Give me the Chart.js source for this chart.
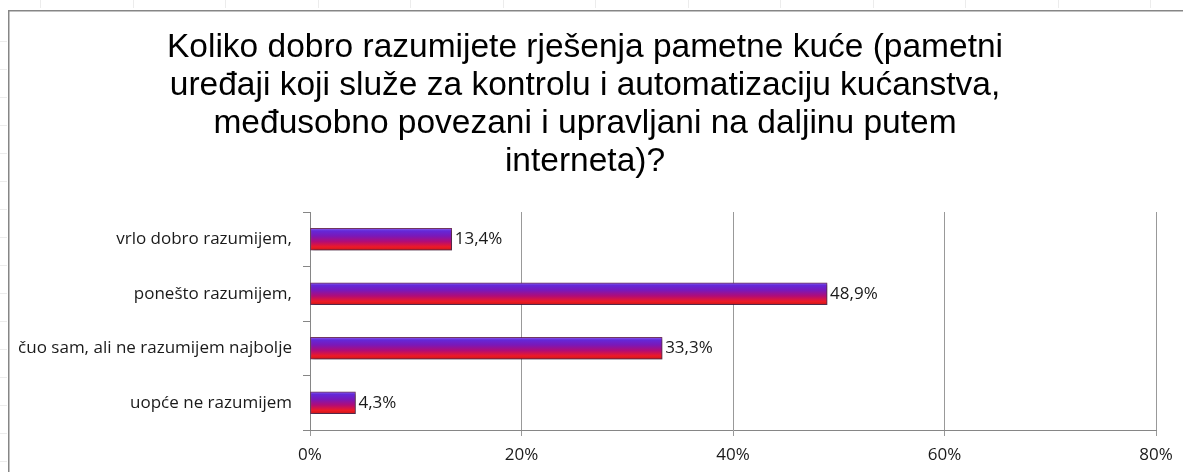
<!DOCTYPE html>
<html>
<head>
<meta charset="utf-8">
<script src="https://cdn.jsdelivr.net/npm/chart.js@4/dist/chart.umd.min.js"></script>
<style>
  html, body { margin: 0; padding: 0; background: #fff; }
  #wrap { width: 1183px; height: 472px; position: relative; }
</style>
</head>
<body>
<div id="wrap"><canvas id="smartHomeChart" width="1183" height="472"></canvas></div>
<script>
const titleLines = [
  'Koliko dobro razumijete rješenja pametne kuće (pametni',
  'uređaji koji služe za kontrolu i automatizaciju kućanstva,',
  'međusobno povezani i upravljani na daljinu putem',
  'interneta)?'
];
const categories = ['vrlo dobro razumijem,', 'ponešto razumijem,', 'čuo sam, ali ne razumijem najbolje', 'uopće ne razumijem'];
const shares = [13.4, 48.9, 33.3, 4.3];
const tickValues = [0, 20, 40, 60, 80];

const labelFont = '"Open Sans", "DejaVu Sans", sans-serif';
const barHalf = 11;

// excel style frame + faint sheet grid behind the chart
const sheetFrame = {
  id: 'sheetFrame',
  beforeDraw(chart) {
    const ctx = chart.ctx;
    ctx.save();
    ctx.strokeStyle = '#ececec';
    ctx.lineWidth = 1;
    for (let x = 40; x < chart.width; x += 92.5) {
      ctx.beginPath();
      ctx.moveTo(Math.round(x) + 0.5, 0);
      ctx.lineTo(Math.round(x) + 0.5, 8);
      ctx.stroke();
    }
    for (let y = 41; y < chart.height; y += 28) {
      ctx.beginPath();
      ctx.moveTo(0, Math.round(y) + 0.5);
      ctx.lineTo(7, Math.round(y) + 0.5);
      ctx.stroke();
    }
    ctx.strokeStyle = '#868686';
    ctx.lineWidth = 1.5;
    ctx.beginPath();
    ctx.moveTo(8.75, chart.height);
    ctx.lineTo(8.75, 10.75);
    ctx.lineTo(chart.width, 10.75);
    ctx.stroke();
    ctx.restore();
  }
};

const barShadow = {
  id: 'barShadow',
  beforeDatasetDraw(chart) {
    const ctx = chart.ctx;
    ctx.save();
    ctx.shadowColor = 'rgba(0,0,0,0.35)';
    ctx.shadowBlur = 3;
    ctx.shadowOffsetX = 2;
    ctx.shadowOffsetY = 2;
  },
  afterDatasetDraw(chart) {
    chart.ctx.restore();
  }
};

const valueLabels = {
  id: 'valueLabels',
  afterDatasetsDraw(chart) {
    const ctx = chart.ctx;
    const meta = chart.getDatasetMeta(0);
    ctx.save();
    ctx.font = '17px ' + labelFont;
    ctx.fillStyle = '#1a1a1a';
    ctx.textAlign = 'left';
    ctx.textBaseline = 'middle';
    meta.data.forEach((bar, i) => {
      const txt = shares[i].toFixed(1).replace('.', ',') + '%';
      ctx.fillText(txt, bar.x + 3, bar.y);
    });
    ctx.restore();
  }
};

function barFill(context) {
  const chart = context.chart;
  const yScale = chart.scales.y;
  if (!yScale || context.dataIndex === undefined) return '#8a1a9a';
  const yc = yScale.getPixelForValue(context.dataIndex);
  if (!isFinite(yc)) return '#8a1a9a';
  const g = chart.ctx.createLinearGradient(0, yc - barHalf, 0, yc + barHalf);
  g.addColorStop(0, '#8a62f0');
  g.addColorStop(0.12, '#6428d8');
  g.addColorStop(0.35, '#7a18b8');
  g.addColorStop(0.6, '#b00c78');
  g.addColorStop(0.85, '#ee1a26');
  g.addColorStop(1, '#c81818');
  return g;
}

new Chart(document.getElementById('smartHomeChart'), {
  type: 'bar',
  data: {
    labels: categories,
    datasets: [{
      data: shares,
      backgroundColor: barFill,
      borderColor: 'rgba(90,20,70,0.85)',
      borderWidth: 1,
      borderSkipped: false,
      barThickness: 22
    }]
  },
  options: {
    indexAxis: 'y',
    responsive: false,
    animation: false,
    layout: { padding: { left: 14, right: 27, top: 0, bottom: 0 } },
    plugins: {
      legend: { display: false },
      tooltip: { enabled: false },
      title: {
        display: true,
        text: titleLines,
        color: '#000',
        font: { family: '"Liberation Sans", Arial, sans-serif', size: 33.5, weight: 'normal', lineHeight: 38 / 33.5 },
        padding: { top: 29, bottom: 31 }
      }
    },
    scales: {
      x: {
        min: 0,
        max: 80,
        afterBuildTicks(scale) {
          scale.ticks = tickValues.map(v => ({ value: v }));
        },
        afterFit(scale) { scale.height = 42; },
        grid: { color: '#999', lineWidth: 1, tickLength: 6, tickColor: '#999' },
        border: { color: '#868686', width: 1 },
        ticks: {
          padding: 9,
          color: '#1a1a1a',
          font: { family: labelFont, size: 17 },
          callback: v => v + '%'
        }
      },
      y: {
        afterFit(scale) { scale.width = 296; },
        grid: { drawOnChartArea: false, drawTicks: true, tickLength: 7, color: '#868686' },
        border: { color: '#868686', width: 1 },
        ticks: {
          padding: 11,
          color: '#1a1a1a',
          font: { family: labelFont, size: 17 }
        }
      }
    }
  },
  plugins: [sheetFrame, barShadow, valueLabels]
});
</script>
</body>
</html>
